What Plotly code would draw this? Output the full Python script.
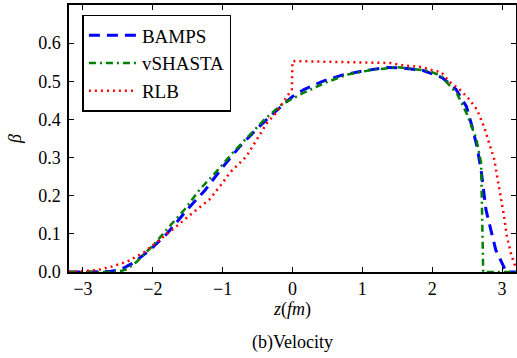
import plotly.graph_objects as go

# BAMPS
z_bamps = [-3.2, -2.9, -2.6, -2.5, -2.4, -2.3, -2.2, -2.04, -1.8, -1.5, -1.25, -1.0, -0.75, -0.5, -0.25, 0.0,
           0.17, 0.43, 0.71, 1.0, 1.34, 1.57, 1.86, 2.14, 2.34, 2.49, 2.57, 2.64, 2.7, 2.77, 2.91, 3.06, 3.2]
b_bamps = [0.0, 0.0, 0.002, 0.005, 0.012, 0.022, 0.035, 0.058, 0.1, 0.165, 0.215, 0.275, 0.33, 0.377, 0.42, 0.46,
           0.479, 0.5, 0.516, 0.527, 0.536, 0.535, 0.529, 0.51, 0.479, 0.434, 0.382, 0.33, 0.268, 0.163, 0.058, 0.0, 0.0]

# vSHASTA
z_shasta = [-3.2, -2.6, -2.45, -2.36, -2.23, -1.97, -1.76, -1.54, -1.33, -1.2, -1.09, -0.87, -0.64, -0.4, -0.15,
            0.14, 0.48, 0.79, 1.14, 1.49, 1.96, 2.13, 2.36, 2.5, 2.63, 2.7, 2.72, 2.73, 3.2]
b_shasta = [0.0, 0.0, 0.003, 0.008, 0.027, 0.075, 0.12, 0.165, 0.216, 0.24, 0.263, 0.31, 0.355, 0.4, 0.44,
            0.468, 0.497, 0.518, 0.53, 0.537, 0.527, 0.514, 0.466, 0.413, 0.35, 0.287, 0.1, 0.0, 0.0]

# RLB
z_rlb = [-3.2, -3.0, -2.8, -2.61, -2.37, -2.14, -1.9, -1.66, -1.43, -1.19, -1.0, -0.9, -0.66, -0.53, -0.36, -0.23,
         -0.11, -0.01, 0.0, 0.5, 1.0, 1.39, 1.57, 1.86, 2.0, 2.13, 2.24, 2.39, 2.53, 2.64, 2.74, 2.81, 2.89, 2.93,
         2.99, 3.03, 3.07, 3.14, 3.2]
b_rlb = [0.0, 0.002, 0.005, 0.013, 0.027, 0.05, 0.084, 0.12, 0.155, 0.19, 0.234, 0.26, 0.303, 0.34, 0.392, 0.418,
         0.453, 0.479, 0.553, 0.551, 0.55, 0.548, 0.542, 0.537, 0.529, 0.524, 0.5, 0.479, 0.453, 0.426, 0.382, 0.34,
         0.295, 0.25, 0.19, 0.145, 0.092, 0.04, 0.01]

x_ticks = [-3, -2, -1, 0, 1, 2, 3]
y_ticks = [0.0, 0.1, 0.2, 0.3, 0.4, 0.5, 0.6]
y_ticklabels = ["0.0", "0.1", "0.2", "0.3", "0.4", "0.5", "0.6"]

FONT = "Liberation Serif"
FS = 18

fig = go.Figure()
fig.add_trace(go.Scatter(x=z_bamps, y=b_bamps, mode="lines", name="BAMPS",
                         line=dict(color="#0000ff", width=3, dash="11px,7px")))
fig.add_trace(go.Scatter(x=z_shasta, y=b_shasta, mode="lines", name="vSHASTA",
                         line=dict(color="#007f00", width=2.5, dash="7px,4px,2px,4px")))
fig.add_trace(go.Scatter(x=z_rlb, y=b_rlb, mode="lines", name="RLB",
                         line=dict(color="#ff0000", width=2.5, dash="2px,4px")))

axis_common = dict(showline=True, linecolor="black", linewidth=1.5, mirror="ticks",
                   ticks="inside", ticklen=5, tickwidth=1, tickcolor="black",
                   showgrid=False, zeroline=False, automargin=False,
                   tickfont=dict(family=FONT, size=FS, color="black"))

fig.update_layout(
    width=517, height=358,
    margin=dict(l=69, r=1, t=5, b=86),
    paper_bgcolor="white", plot_bgcolor="white",
    xaxis=dict(range=[-3.2, 3.2], tickvals=x_ticks, **axis_common,
               title=dict(text="<i>z</i>(<i>fm</i>)", font=dict(family=FONT, size=FS, color="black"),
                          standoff=4)),
    yaxis=dict(range=[0, 0.7], tickvals=y_ticks, ticktext=y_ticklabels, ticklabelstandoff=3, **axis_common,
               title=dict(text="<i>β</i>", font=dict(family=FONT, size=FS, color="black"), standoff=12)),
    legend=dict(x=0.03, y=0.963, xanchor="left", yanchor="top",
                bordercolor="black", borderwidth=1.5, bgcolor="white",
                font=dict(family=FONT, size=19, color="black"),
                tracegroupgap=0, itemwidth=48),
    showlegend=True,
    annotations=[dict(text="(b)Velocity", x=0.5, y=-0.265, xref="paper", yref="paper",
                      xanchor="center", yanchor="middle", showarrow=False,
                      font=dict(family=FONT, size=FS, color="black"))],
)

fig.write_html("out.html", config={"displayModeBar": False},
               post_script="document.body.style.margin='0';")
